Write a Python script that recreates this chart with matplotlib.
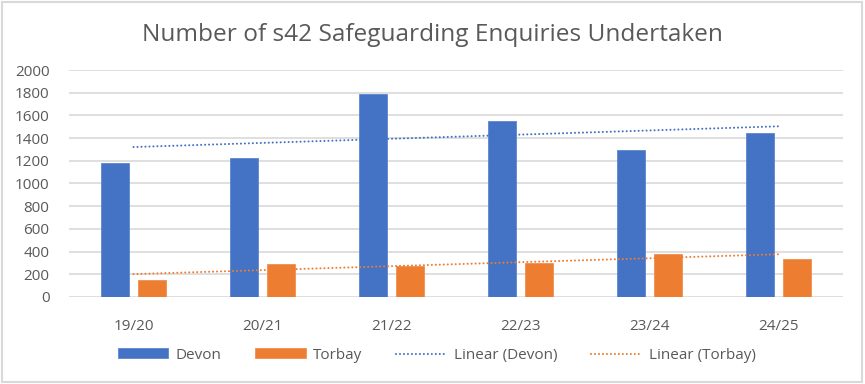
import numpy as np
import matplotlib
matplotlib.use('Agg')
import matplotlib.pyplot as plt
from matplotlib.patches import Rectangle

plt.rcParams['font.family'] = ['Open Sans', 'DejaVu Sans']

# Данные с графика
years = ['19/20', '20/21', '21/22', '22/23', '23/24', '24/25']
devon = [1183, 1221, 1786, 1548, 1295, 1442]
torbay = [147, 295, 274, 303, 383, 333]

blue = '#4472C4'
orange = '#ED7D31'
text_col = '#595959'
grid_col = '#D9D9D9'

fig = plt.figure(figsize=(8.65, 3.84), dpi=100)
ax = fig.add_axes([0.0798, 0.2266, 0.8948, 0.5911])

x = np.arange(len(years))
b1 = ax.bar(x - 0.143, devon, width=0.22, color=blue, edgecolor='#5B86CF', linewidth=0.6, label='Devon', zorder=3)
b2 = ax.bar(x + 0.143, torbay, width=0.22, color=orange, edgecolor='#F0904E', linewidth=0.6, label='Torbay', zorder=3)

# Линейные тренды (как в Excel)
xs = np.arange(1, len(years) + 1)
trend_lines = []
for vals, col, name in [(devon, blue, 'Linear (Devon)'), (torbay, orange, 'Linear (Torbay)')]:
    k, b = np.polyfit(xs, vals, 1)
    ln, = ax.plot(x, k * xs + b, color=col, linewidth=1.5, linestyle=(0, (0.01, 1.9)),
                  dash_capstyle='round', label=name, zorder=4)
    trend_lines.append(ln)

ax.set_xlim(-0.5, len(years) - 0.5)
ax.set_ylim(0, 2000)
ax.set_yticks(range(0, 2001, 200))
ax.set_xticks(x)
ax.set_xticklabels(years)
ax.yaxis.grid(True, color=grid_col, linewidth=1.2, zorder=0)
ax.set_axisbelow(True)
for s in ax.spines.values():
    s.set_visible(False)
ax.tick_params(axis='both', length=0, colors=text_col, labelsize=11)
ax.tick_params(axis='x', pad=16)
ax.tick_params(axis='y', pad=14)

fig.text(0.5, 0.91, 'Number of s42 Safeguarding Enquiries Undertaken', ha='center', va='center',
         fontsize=17.6, color=text_col)

handles = [b1, b2] + trend_lines
labels = ['Devon', 'Torbay', 'Linear (Devon)', 'Linear (Torbay)']
leg = fig.legend(handles, labels, loc='center', bbox_to_anchor=(0.505, 0.075), ncol=4, frameon=False,
                 fontsize=11, handlelength=3.3, handleheight=0.6, handletextpad=0.5, columnspacing=2.2)
for t in leg.get_texts():
    t.set_color(text_col)

# Рамка вокруг диаграммы
fig.add_artist(Rectangle((0.002, 0.004), 0.994, 0.992, transform=fig.transFigure,
                         fill=False, edgecolor=grid_col, linewidth=1.5))

fig.savefig('out.png', dpi=100)
